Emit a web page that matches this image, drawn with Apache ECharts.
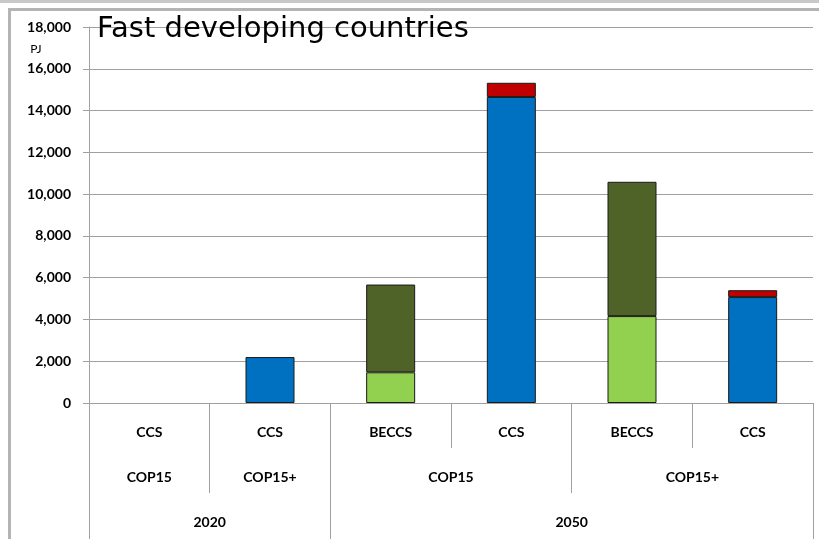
<!DOCTYPE html>
<html>
<head>
<meta charset="utf-8">
<script src="https://cdn.jsdelivr.net/npm/echarts@6/dist/echarts.min.js"></script>
<style>
html,body{margin:0;padding:0;background:#fff;}
#chart{width:819px;height:539px;}
</style>
</head>
<body>
<div id="chart"></div>
<script>
// Level 1 categories (technology)
var categories = ['CCS', 'CCS', 'BECCS', 'CCS', 'BECCS', 'CCS'];
// Level 2 labels (scenario) on half-column points 0..12
var scenarioLabels = ['', 'COP15', '', 'COP15+', '', '', 'COP15', '', '', '', 'COP15+', '', ''];
var scenarioTicks = [0, 2, 4, 8, 12];
// Level 3 labels (year) on half-column points 0..12
var yearLabels = ['', '', '2020', '', '', '', '', '', '2050', '', '', '', ''];
var yearTicks = [0, 4, 12];

// Series values (PJ)
var ccsMain = [null, 2200, null, 14650, null, 5070];
var ccsTop = [null, null, null, 680, null, 330];
var beccsLow = [null, null, 1470, null, 4160, null];
var beccsHigh = [null, null, 4200, null, 6430, null];

var yTicks = { min: 0, max: 18000, interval: 2000 };

var labelFont = { fontFamily: 'Lato', fontWeight: 'bold', fontSize: 14, color: '#000' };
var gray = '#a0a0a0';

var chart = echarts.init(document.getElementById('chart'), null, { renderer: 'canvas' });

function barSeries(name, data, color) {
  return {
    name: name, type: 'bar', stack: 'total', data: data, barWidth: 49,
    xAxisIndex: 0, yAxisIndex: 0,
    itemStyle: { color: color, borderColor: '#1a1a1a', borderWidth: 1 }
  };
}

chart.setOption({
  animation: false,
  backgroundColor: '#fff',
  title: {
    text: 'Fast developing countries',
    left: 92, top: 10,
    textStyle: { fontFamily: 'DejaVu Sans', fontWeight: 'normal', fontSize: 29, color: '#000' }
  },
  graphic: [
    { type: 'rect', shape: { x: 0, y: 0, width: 819, height: 3 }, style: { fill: '#c8c8c8' } },
    { type: 'rect', shape: { x: 8, y: 8, width: 811, height: 3 }, style: { fill: '#b4b4b4' } },
    { type: 'rect', shape: { x: 8, y: 8, width: 3, height: 531 }, style: { fill: '#b4b4b4' } },
    { type: 'text', x: 36, y: 49, style: { text: 'PJ', fontFamily: 'Lato', fontSize: 12, fill: '#000', align: 'center', verticalAlign: 'middle' } }
  ],
  grid: { left: 89, right: 6, top: 27, bottom: 136, containLabel: false },
  yAxis: {
    type: 'value', min: yTicks.min, max: yTicks.max, interval: yTicks.interval,
    axisLine: { show: true, lineStyle: { color: gray } },
    axisTick: { show: true, length: 6, lineStyle: { color: gray } },
    splitLine: { show: true, lineStyle: { color: gray, width: 1 } },
    axisLabel: Object.assign({ margin: 18, formatter: function (v) { return v.toLocaleString('en-US'); } }, labelFont)
  },
  xAxis: [
    {
      type: 'category', data: categories, position: 'bottom',
      axisLine: { show: true, lineStyle: { color: gray } },
      axisTick: { show: true, length: 45, lineStyle: { color: gray } },
      axisLabel: Object.assign({ margin: 22 }, labelFont),
      splitLine: { show: false }
    },
    {
      type: 'category', data: scenarioLabels, position: 'bottom', boundaryGap: false,
      axisLine: { show: false },
      axisTick: { show: true, length: 90, lineStyle: { color: gray },
        interval: function (i) { return scenarioTicks.indexOf(i) >= 0; } },
      axisLabel: Object.assign({ margin: 67, interval: function (i, v) { return v !== ''; } }, labelFont),
      splitLine: { show: false }
    },
    {
      type: 'category', data: yearLabels, position: 'bottom', boundaryGap: false,
      axisLine: { show: false },
      axisTick: { show: true, length: 136, lineStyle: { color: gray },
        interval: function (i) { return yearTicks.indexOf(i) >= 0; } },
      axisLabel: Object.assign({ margin: 112, interval: function (i, v) { return v !== ''; } }, labelFont),
      splitLine: { show: false }
    }
  ],
  series: [
    barSeries('CCS', ccsMain, '#0070C0'),
    barSeries('CCS (additional)', ccsTop, '#C00000'),
    barSeries('BECCS', beccsLow, '#92D050'),
    barSeries('BECCS (additional)', beccsHigh, '#4F6228')
  ]
});
</script>
</body>
</html>
